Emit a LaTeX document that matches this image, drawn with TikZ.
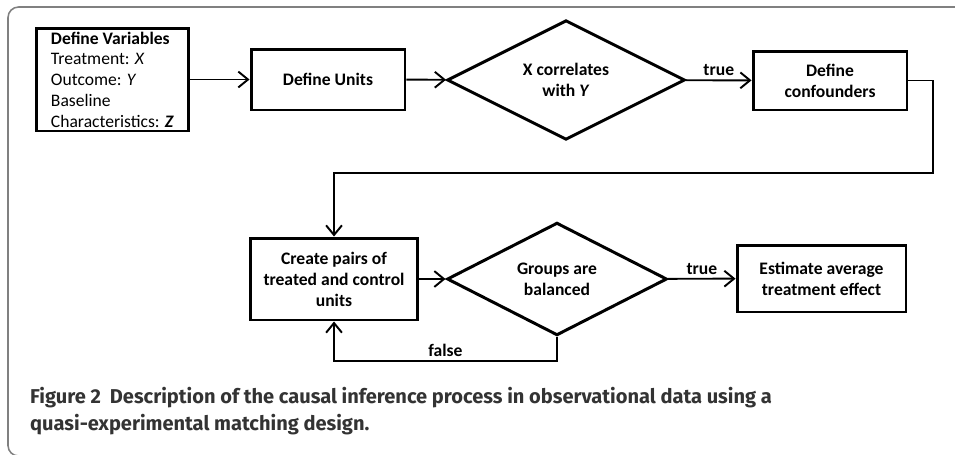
\documentclass[tikz,border=0pt]{standalone}
\usepackage{amsmath}
\usepackage{fontspec}
\usepackage{xcolor}
\usetikzlibrary{shapes.geometric,arrows.meta}
\setmainfont{Carlito}
\newfontfamily\captionfont{Fira Sans}

\begin{document}
\begin{tikzpicture}[x=0.02cm,y=-0.02cm,
    caja/.style={draw,line width=1.7pt,align=center,inner sep=2pt,
      font=\bfseries\fontsize{10}{12}\selectfont},
    rombo/.style={draw,diamond,line width=1.7pt,align=center,inner sep=0pt,
      font=\bfseries\fontsize{10}{12}\selectfont},
    flecha/.style={line width=1.1pt,-{Straight Barb[length=5.5pt,width=9pt]}},
    etiqueta/.style={font=\bfseries\fontsize{10}{12}\selectfont,inner sep=2pt},
    leyenda/.style={anchor=base west,text=black!80,
      font=\captionfont\bfseries\fontsize{11.4}{14}\selectfont}]
            % Fija el tamano de la figura
            \useasboundingbox (0,0) rectangle (955,454);

            % Dibuja el marco exterior
            \draw[line width=0.9pt,black!50,rounded corners=6pt] (960,7) -- (8,7) -- (8,456) -- (30,456);

            % Primera fila de pasos
            \node[caja,align=left,font=\fontsize{10}{11.8}\selectfont,minimum width=3.06cm,minimum height=2.06cm] (vars) at (112.5,79.5)
                {\textbf{Define Variables}\\Treatment: \textit{X}\\Outcome: \textit{Y}\\Baseline\\Characteristics: \textbf{\textit{Z}}};
            \node[caja,minimum width=3.08cm,minimum height=1.22cm] (units) at (328,79.5) {Define Units};
            \node[rombo,minimum width=4.76cm,minimum height=2.2cm] (corr) at (566,80) {X correlates\\with \textit{Y}};
            \node[caja,minimum width=3.08cm,minimum height=1.18cm] (conf) at (830,80.5) {Define\\confounders};

            % Segunda fila de pasos
            \node[caja,minimum width=3.36cm,minimum height=1.64cm] (pairs) at (334,279) {Create pairs of\\treated and control\\units};
            \node[rombo,minimum width=4.4cm,minimum height=2.16cm] (bal) at (557,279) {Groups are\\balanced};
            \node[caja,minimum width=3.38cm,minimum height=1.34cm] (est) at (821.5,278.5) {Estimate average\\treatment effect};

            % Conectores
            \draw[flecha] (vars) -- (units);
            \draw[flecha] (units) -- (corr);
            \draw[flecha] (corr) -- node[etiqueta,above] {true} (conf);
            \draw[flecha] (conf.east) -| (933,173) -| (pairs.north);
            \draw[flecha] (pairs) -- (bal);
            \draw[flecha] (bal) -- node[etiqueta,above] {true} (est);
            \draw[flecha] (bal.south) -- (557,361) -- node[etiqueta,above] {false} (334,361) -- (pairs.south);

            % Pie de figura
            \node[leyenda] (cap1) at (24,403) {Figure 2\hspace{0.45em}Description of the causal inference process in observational data using a};
            \node[leyenda] (cap2) at (24,430) {quasi-experimental matching design.};
        \end{tikzpicture}
\end{document}
